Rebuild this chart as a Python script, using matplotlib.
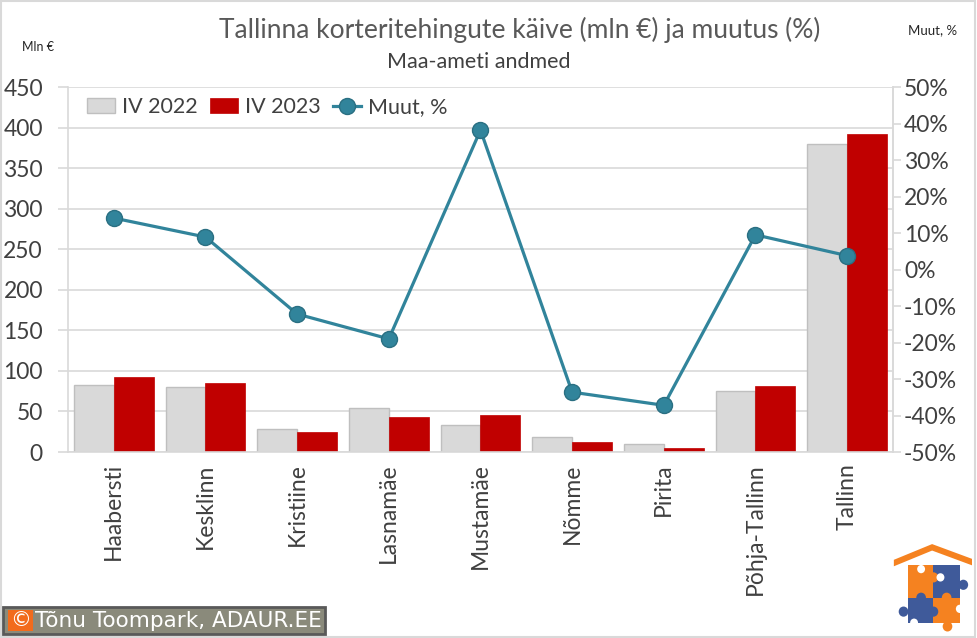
import numpy as np
import matplotlib.pyplot as plt
from matplotlib.patches import Rectangle, Polygon
from matplotlib.ticker import FuncFormatter

districts = ["Haabersti", "Kesklinn", "Kristiine", "Lasnamäe", "Mustamäe",
             "Nõmme", "Pirita", "Põhja-Tallinn", "Tallinn"]
iv_2022 = [82.2, 79.7, 28.0, 53.8, 32.9, 18.1, 9.5, 74.8, 379.4]
iv_2023 = [92.5, 85.0, 24.7, 43.2, 45.6, 12.3, 4.9, 81.4, 392.0]
muutus = [14.1, 8.9, -12.2, -19.0, 38.2, -33.6, -37.2, 9.5, 3.8]

left_ticks = np.arange(0, 451, 50)
right_ticks = np.arange(-50, 51, 10)

plt.rcParams["font.family"] = ["Lato", "DejaVu Sans"]

fig = plt.figure(figsize=(9.77, 6.38), dpi=100)
ax = fig.add_axes([0.0696, 0.2915, 0.8444, 0.5721])

x = np.arange(len(districts))
w = 0.435
grid_c = "#D9D9D9"

ax.bar(x - w / 2, iv_2022, w, color="#D9D9D9", edgecolor="#BFBFBF", linewidth=1,
       label="IV 2022", zorder=2)
ax.bar(x + w / 2, iv_2023, w, color="#C00000", edgecolor="#C00000", linewidth=0.5,
       label="IV 2023", zorder=2)

ax.set_xlim(-0.5, len(districts) - 0.5)
ax.set_ylim(0, 450)
ax.set_yticks(left_ticks)
ax.yaxis.grid(True, color=grid_c, linewidth=1.2, zorder=0)
ax.set_axisbelow(True)
ax.set_xticks(x)
ax.set_xticklabels(districts, rotation=90, fontsize=16.5, color="#404040")
ax.tick_params(axis="x", length=0, pad=8)
ax.tick_params(axis="y", length=7, color=grid_c, width=1.2, labelsize=16.5,
               labelcolor="#404040", pad=11)
ax.spines["top"].set_visible(False)
for s in ["left", "bottom", "right"]:
    ax.spines[s].set_color(grid_c)
    ax.spines[s].set_linewidth(1.2)

ax2 = ax.twinx()
ax2.plot(x, muutus, color="#31849B", linewidth=2.3, marker="o", markersize=11.5,
         markerfacecolor="#31849B", markeredgecolor="#2A6F82", label="Muut, %", zorder=3)
ax2.set_ylim(-50, 50)
ax2.set_yticks(right_ticks)
ax2.yaxis.set_major_formatter(FuncFormatter(lambda v, p: f"{v:.0f}%"))
ax2.tick_params(axis="y", length=6, color=grid_c, width=1.2, labelsize=16.5,
                labelcolor="#404040", pad=2)
for s in ["top", "left", "bottom"]:
    ax2.spines[s].set_visible(False)
ax2.spines["right"].set_color(grid_c)
ax2.spines["right"].set_linewidth(1.2)

h1, l1 = ax.get_legend_handles_labels()
h2, l2 = ax2.get_legend_handles_labels()
ax.legend(h1 + h2, l1 + l2, loc="upper left", bbox_to_anchor=(0.0, 1.025), ncol=3,
          frameon=False, fontsize=15.5, handlelength=1.3, handletextpad=0.3,
          columnspacing=0.6, labelcolor="#404040")

fig.text(0.532, 0.953, "Tallinna korteritehingute käive (mln €) ja muutus (%)",
         ha="center", va="center", fontsize=19, color="#595959")
fig.text(0.49, 0.903, "Maa-ameti andmed", ha="center", va="center",
         fontsize=15.5, color="#404040")
fig.text(0.023, 0.926, "Mln €", ha="left", va="center", fontsize=9, color="#262626")
fig.text(0.929, 0.953, "Muut, %", ha="left", va="center", fontsize=9.5, color="#262626")

# outer frame
fig.add_artist(Rectangle((0.001, 0.001), 0.997, 0.997, transform=fig.transFigure,
                         fill=False, edgecolor="#D9D9D9", linewidth=1.5))

# copyright badge
fig.add_artist(Rectangle((0.003, 0.006), 0.330, 0.043, transform=fig.transFigure,
                         facecolor="#8A8A7B", edgecolor="#595959", linewidth=2))
fig.add_artist(Rectangle((0.008, 0.011), 0.026, 0.033, transform=fig.transFigure,
                         facecolor="#F26B1D", edgecolor="none"))
fig.text(0.021, 0.028, "©", ha="center", va="center", fontsize=15, color="white",
         family="DejaVu Sans")
fig.text(0.036, 0.027, "Tõnu Toompark, ADAUR.EE", ha="left", va="center",
         fontsize=15.5, color="white", family="DejaVu Sans")

# logo
lx = fig.add_axes([0.905, 0.008, 0.09, 0.145])
lx.set_xlim(0, 10)
lx.set_ylim(0, 10)
lx.axis("off")
orange, blue = "#F58220", "#3F5A9A"
lx.add_patch(Polygon([[1.1, 7.9], [5.45, 9.6], [10.0, 8.0], [10.0, 7.3], [5.45, 8.9], [1.1, 7.2]],
                     closed=True, facecolor=orange, edgecolor="none"))
for (px, py, pw, ph, c) in [(2.7, 3.8, 2.9, 3.5, orange), (5.6, 3.8, 3.0, 3.5, blue),
                            (2.7, 1.1, 2.9, 2.7, blue), (5.6, 1.1, 3.0, 2.7, orange)]:
    lx.add_patch(Rectangle((px, py), pw, ph, facecolor=c, edgecolor="none"))
for (cx, cy, c) in [(5.6, 6.0, orange), (4.2, 3.8, blue), (7.1, 3.8, orange),
                    (9.0, 5.2, blue), (2.2, 2.3, blue), (5.6, 2.3, blue), (7.2, 0.7, orange)]:
    lx.add_patch(plt.Circle((cx, cy), 0.55, facecolor=c, edgecolor="none"))
for (cx, cy) in [(4.2, 6.9), (6.4, 6.0), (3.4, 1.1), (8.6, 2.6)]:
    lx.add_patch(plt.Circle((cx, cy), 0.45, facecolor="white", edgecolor="none"))

fig.savefig("out.png", dpi=100)
